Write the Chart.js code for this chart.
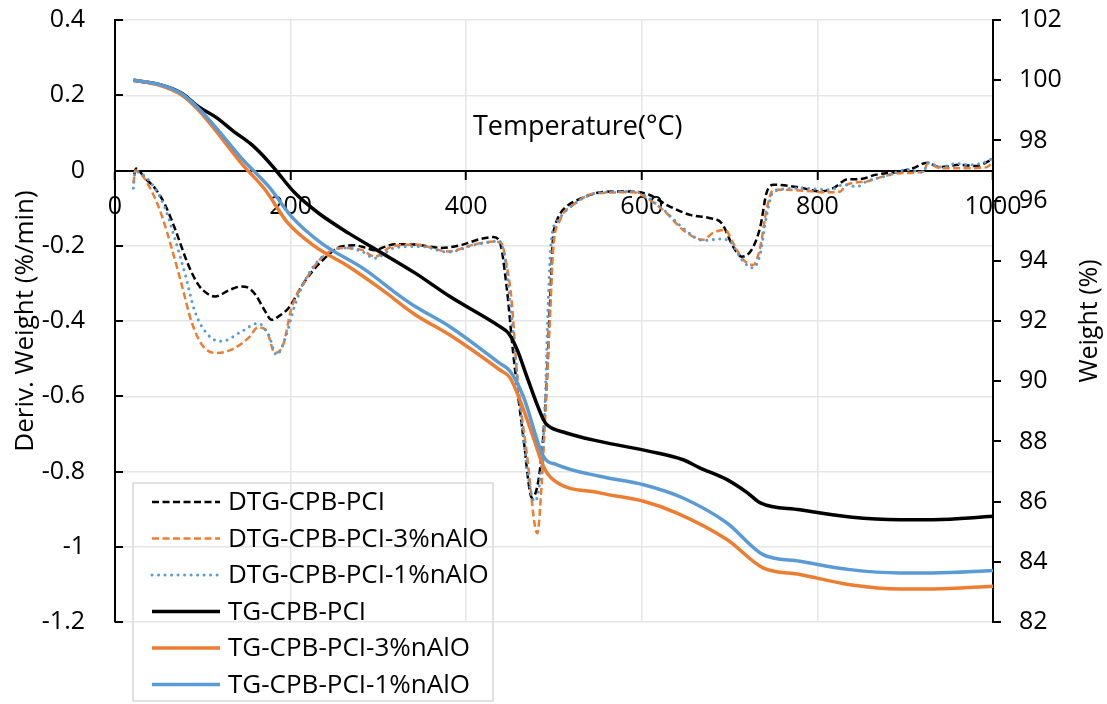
<!DOCTYPE html>
<html>
<head>
<meta charset="utf-8">
<script src="https://cdn.jsdelivr.net/npm/chart.js@4"></script>
<style>
  html, body { margin: 0; padding: 0; background: #fff; }
</style>
</head>
<body>
<canvas id="chart" width="1107" height="704"></canvas>
<script>
// TG curves: temperature (°C) and weight (%)
const tTgPci = [21, 50, 76, 95, 116, 135, 154, 170, 182, 205, 232, 266, 304, 342, 381, 438, 448, 458, 469, 480, 488, 492, 514, 552, 609, 647, 666, 697, 720, 735, 780, 837, 894, 932, 1000];
const wTgPci = [100.0, 99.86, 99.57, 99.12, 98.75, 98.3, 97.9, 97.45, 97.05, 96.25, 95.58, 94.92, 94.26, 93.59, 92.82, 91.82, 91.6, 91.05, 90.16, 89.28, 88.72, 88.55, 88.28, 88.0, 87.67, 87.39, 87.12, 86.73, 86.3, 85.96, 85.73, 85.49, 85.40, 85.40, 85.51];

const tTg3 = [21, 50, 76, 95, 114, 144, 171, 197, 228, 266, 304, 342, 381, 438, 450, 461, 476, 488, 499, 552, 602, 640, 697, 738, 780, 837, 894, 932, 1000];
const wTg3 = [100.0, 99.84, 99.51, 99.01, 98.35, 97.24, 96.36, 95.25, 94.47, 93.81, 93.04, 92.21, 91.54, 90.38, 90.11, 89.39, 88.17, 87.17, 86.73, 86.29, 86.01, 85.62, 84.74, 83.80, 83.58, 83.24, 83.10, 83.10, 83.19];

const tTg1 = [21, 50, 76, 95, 114, 144, 175, 201, 235, 285, 325, 342, 381, 438, 450, 465, 488, 503, 552, 602, 647, 697, 738, 780, 837, 894, 932, 1000];
const wTg1 = [100.0, 99.86, 99.55, 99.07, 98.46, 97.41, 96.47, 95.47, 94.59, 93.70, 92.82, 92.48, 91.82, 90.6, 90.33, 89.50, 87.50, 87.23, 86.84, 86.56, 86.12, 85.29, 84.24, 84.02, 83.74, 83.63, 83.63, 83.71];

// DTG curves: temperature (°C) and deriv. weight (%/min)
const tDtgPci = [22, 24, 34, 45.5, 57, 68, 83.5, 95, 105, 114, 130, 144, 152, 160, 170, 178.5, 188, 197.5, 216, 235, 258, 273, 285, 296, 307, 319, 342, 372, 396, 416, 431, 438, 446, 453.5, 465, 475, 484, 491.5, 495.5, 499, 501, 507, 514, 530, 548, 567, 586, 609, 628, 655, 678, 691, 704, 714, 725, 735, 742, 750, 780, 803, 818, 835, 848, 867, 894, 909, 924, 940, 962, 981, 998];
const dDtgPci = [-0.01, 0.005, -0.02, -0.047, -0.091, -0.153, -0.251, -0.304, -0.327, -0.335, -0.318, -0.308, -0.312, -0.33, -0.37, -0.397, -0.385, -0.366, -0.295, -0.242, -0.202, -0.199, -0.205, -0.212, -0.203, -0.196, -0.197, -0.206, -0.197, -0.182, -0.177, -0.188, -0.308, -0.485, -0.707, -0.87, -0.795, -0.574, -0.352, -0.175, -0.149, -0.115, -0.096, -0.075, -0.060, -0.056, -0.056, -0.065, -0.091, -0.118, -0.127, -0.140, -0.202, -0.229, -0.211, -0.149, -0.060, -0.038, -0.045, -0.056, -0.047, -0.023, -0.023, -0.011, -0.003, 0.006, 0.020, 0.009, 0.015, 0.012, 0.028];

const tDtg3 = [21, 23, 30, 42, 53, 64.5, 76, 87, 99, 114, 132, 152, 163, 173, 182, 191.5, 201, 216, 235, 258, 281, 296, 315, 342, 379.5, 410, 431, 440, 446, 452, 457.5, 469, 481, 486, 490, 495.5, 499, 507, 522, 548.5, 590, 609, 628, 647, 670, 681, 695, 704, 715.5, 727, 735, 742, 750, 780, 810.5, 826, 833, 856, 875, 894, 920.5, 926, 940, 970, 993, 1000];
const dDtg3 = [-0.035, 0.0, -0.01, -0.056, -0.118, -0.206, -0.304, -0.401, -0.463, -0.485, -0.477, -0.445, -0.417, -0.428, -0.485, -0.463, -0.366, -0.295, -0.233, -0.206, -0.211, -0.229, -0.202, -0.197, -0.215, -0.196, -0.189, -0.193, -0.25, -0.352, -0.53, -0.751, -0.964, -0.831, -0.654, -0.388, -0.211, -0.131, -0.091, -0.060, -0.058, -0.078, -0.113, -0.158, -0.184, -0.166, -0.158, -0.193, -0.237, -0.251, -0.202, -0.104, -0.051, -0.053, -0.058, -0.056, -0.038, -0.029, -0.016, -0.007, -0.003, 0.020, 0.006, 0.006, 0.009, 0.024];

const tDtg1 = [21, 23, 45.5, 57, 68, 80, 91, 106, 121.5, 144, 163, 175, 184, 194, 205, 220, 239, 262, 281, 296, 319, 349, 379.5, 410, 431, 436.5, 444, 450, 457.5, 467, 478, 486, 490, 493.5, 497, 505, 522, 548.5, 590, 620.5, 647, 670, 689, 700.5, 715.5, 727, 735, 742, 750, 780, 815, 829.5, 845, 856, 879, 902, 920.5, 926, 940, 958, 974, 991, 1000];
const dDtg1 = [-0.047, -0.003, -0.047, -0.1, -0.18, -0.277, -0.375, -0.437, -0.454, -0.428, -0.406, -0.437, -0.490, -0.445, -0.357, -0.277, -0.224, -0.206, -0.215, -0.233, -0.205, -0.202, -0.217, -0.197, -0.189, -0.186, -0.229, -0.352, -0.53, -0.751, -0.88, -0.778, -0.609, -0.344, -0.184, -0.131, -0.091, -0.060, -0.056, -0.096, -0.153, -0.186, -0.182, -0.189, -0.242, -0.259, -0.220, -0.122, -0.056, -0.047, -0.051, -0.038, -0.043, -0.029, -0.014, 0.002, -0.005, 0.021, 0.009, 0.018, 0.015, 0.022, 0.033];

const FAMILY = 'Open Sans';
const TICK_FONT = { family: FAMILY, size: 25 };
const LEFT_TITLE_FONT = { family: FAMILY, size: 26 };
const BLACK = '#000000';
const ORANGE = '#ED7D31';
const BLUE = '#5B9BD5';
const GRID = '#e6e6e6';
const CLEAR = 'rgba(0,0,0,0)';

function pts(xs, ys) {
    return xs.map((x, i) => ({ x: x, y: ys[i] }));
}

function dtg(label, xs, ys, color, dash, width, order) {
    return {
        label: label, data: pts(xs, ys), yAxisID: 'y',
        borderColor: color, borderWidth: width, borderDash: dash,
        borderCapStyle: dash[0] < 1 ? 'round' : 'butt',
        pointRadius: 0, fill: false, cubicInterpolationMode: 'monotone', order: order
    };
}

function tg(label, xs, ys, color, order) {
    return {
        label: label, data: pts(xs, ys), yAxisID: 'y1',
        borderColor: color, borderWidth: 3.5, borderDash: [],
        pointRadius: 0, fill: false, cubicInterpolationMode: 'monotone', order: order
    };
}

// extra drawing: tick marks, x title, right title, legend box
const extras = {
    id: 'extras',
    afterDraw(chart) {
        const ctx = chart.ctx;
        const { x, y, y1 } = chart.scales;
        const area = chart.chartArea;
        ctx.save();

        // inward ticks on the left axis, outward ticks on the right axis
        ctx.strokeStyle = BLACK;
        ctx.lineWidth = 2;
        y.ticks.forEach(t => {
            const py = Math.round(y.getPixelForValue(t.value));
            ctx.beginPath();
            ctx.moveTo(area.left, py);
            ctx.lineTo(area.left + 8, py);
            ctx.stroke();
        });
        y1.ticks.forEach(t => {
            const py = Math.round(y1.getPixelForValue(t.value));
            ctx.beginPath();
            ctx.moveTo(area.right, py);
            ctx.lineTo(area.right + 8, py);
            ctx.stroke();
        });

        ctx.fillStyle = BLACK;
        ctx.textAlign = 'center';
        ctx.textBaseline = 'middle';
        ctx.font = `27px "${FAMILY}"`;
        ctx.fillText('Temperature(°C)', x.getPixelForValue(527), y.getPixelForValue(0.116));

        // right axis title, reading bottom to top
        ctx.font = `25px "${FAMILY}"`;
        ctx.save();
        ctx.translate(1090, (area.top + area.bottom) / 2);
        ctx.rotate(-Math.PI / 2);
        ctx.fillText('Weight (%)', 0, 0);
        ctx.restore();

        // legend
        ctx.font = `26px "${FAMILY}"`;
        ctx.strokeStyle = '#d9d9d9';
        ctx.lineWidth = 1.5;
        ctx.strokeRect(133, 483, 360, 218);
        ctx.textAlign = 'left';
        const rows = [502, 538.5, 575, 611.5, 648, 684.5];
        chart.data.datasets.forEach((ds, i) => {
            const ry = rows[i];
            ctx.save();
            ctx.strokeStyle = ds.borderColor;
            ctx.lineWidth = ds.borderWidth;
            ctx.setLineDash(ds.borderDash);
            ctx.lineCap = ds.borderCapStyle || 'butt';
            ctx.beginPath();
            ctx.moveTo(152, ry);
            ctx.lineTo(220, ry);
            ctx.stroke();
            ctx.restore();
            ctx.fillText(ds.label, 228, ry + 1);
        });
        ctx.restore();
    }
};

new Chart(document.getElementById('chart'), {
    type: 'line',
    data: {
        datasets: [
            dtg('DTG-CPB-PCI', tDtgPci, dDtgPci, BLACK, [7, 3.5], 2.5, 6),
            dtg('DTG-CPB-PCI-3%nAlO', tDtg3, dDtg3, ORANGE, [7, 3.5], 2.5, 5),
            dtg('DTG-CPB-PCI-1%nAlO', tDtg1, dDtg1, BLUE, [0.01, 6.5], 3, 4),
            tg('TG-CPB-PCI', tTgPci, wTgPci, BLACK, 3),
            tg('TG-CPB-PCI-3%nAlO', tTg3, wTg3, ORANGE, 2),
            tg('TG-CPB-PCI-1%nAlO', tTg1, wTg1, BLUE, 1)
        ]
    },
    options: {
        responsive: false,
        animation: false,
        devicePixelRatio: 1,
        layout: { padding: { top: 20, bottom: 82, left: 0, right: 0 } },
        plugins: { legend: { display: false }, tooltip: { enabled: false } },
        scales: {
            x: {
                type: 'linear', min: 0, max: 1000, position: { y: 0 },
                ticks: { stepSize: 200, font: TICK_FONT, color: BLACK, padding: 13, maxRotation: 0, autoSkip: false,
                         callback: v => String(v) },
                grid: { color: GRID, lineWidth: 1.5, tickLength: 8, tickColor: BLACK, tickWidth: 2 },
                border: { color: BLACK, width: 2 }
            },
            y: {
                position: 'left', min: -1.2, max: 0.4,
                ticks: { stepSize: 0.2, font: TICK_FONT, color: BLACK, padding: 2,
                         callback: v => String(Math.round(v * 10) / 10) },
                grid: { color: GRID, lineWidth: 1.5, tickLength: 28, tickColor: CLEAR },
                border: { color: BLACK, width: 2 },
                title: { display: true, text: 'Deriv. Weight (%/min)', font: LEFT_TITLE_FONT, color: BLACK, padding: { top: 10, bottom: 0 } },
                afterFit: s => { s.width = 115; }
            },
            y1: {
                position: 'right', min: 82, max: 102,
                ticks: { stepSize: 2, font: TICK_FONT, color: BLACK, padding: 2 },
                grid: { drawOnChartArea: false, tickLength: 24, tickColor: CLEAR },
                border: { color: BLACK, width: 2 },
                afterFit: s => { s.width = 114; }
            }
        }
    },
    plugins: [extras]
});
</script>
</body>
</html>
